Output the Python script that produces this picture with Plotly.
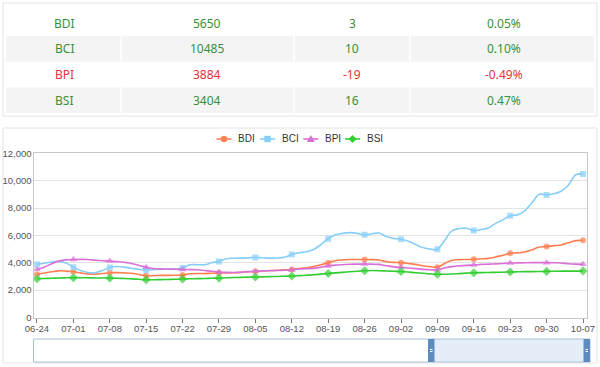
import plotly.graph_objects as go

# ---------------- data ----------------
table_names = ["BDI", "BCI", "BPI", "BSI"]
table_values = [5650, 10485, 3884, 3404]
table_changes = [3, 10, -19, 16]
table_pcts = ["0.05%", "0.10%", "-0.49%", "0.47%"]

dates = [
    "06-24", "06-25", "06-28", "06-29", "06-30",
    "07-01", "07-02", "07-05", "07-06", "07-07",
    "07-08", "07-09", "07-12", "07-13", "07-14",
    "07-15", "07-16", "07-19", "07-20", "07-21",
    "07-22", "07-23", "07-26", "07-27", "07-28",
    "07-29", "07-30", "08-02", "08-03", "08-04",
    "08-05", "08-06", "08-09", "08-10", "08-11",
    "08-12", "08-13", "08-16", "08-17", "08-18",
    "08-19", "08-20", "08-23", "08-24", "08-25",
    "08-26", "08-27", "08-30", "08-31", "09-01",
    "09-02", "09-03", "09-06", "09-07", "09-08",
    "09-09", "09-10", "09-13", "09-14", "09-15",
    "09-16", "09-17", "09-20", "09-21", "09-22",
    "09-23", "09-24", "09-27", "09-28", "09-29",
    "09-30", "10-01", "10-04", "10-05", "10-06",
    "10-07",
]

tick_labels = ["06-24", "07-01", "07-08", "07-15", "07-22", "07-29", "08-05", "08-12",
               "08-19", "08-26", "09-02", "09-09", "09-16", "09-23", "09-30", "10-07"]

bdi = [3150, 3250, 3340, 3410, 3390,
       3340, 3260, 3190, 3170, 3220,
       3270, 3280, 3260, 3230, 3140,
       3050, 3060, 3080, 3080, 3090,
       3100, 3200, 3220, 3210, 3230,
       3250, 3260, 3270, 3300, 3340,
       3370, 3400, 3430, 3450, 3480,
       3510, 3580, 3640, 3720, 3850,
       4010, 4150, 4210, 4240, 4240,
       4240, 4230, 4200, 4080, 4030,
       4010, 3950, 3880, 3780, 3720,
       3680, 3950, 4180, 4230, 4240,
       4250, 4290, 4320, 4420, 4550,
       4690, 4720, 4780, 4950, 5150,
       5180, 5250, 5300, 5460, 5620,
       5650]

bci = [3880, 3960, 4050, 4100, 3990,
       3680, 3430, 3290, 3270, 3440,
       3660, 3730, 3680, 3600, 3520,
       3470, 3500, 3520, 3540, 3560,
       3610, 3850, 3860, 3850, 4000,
       4100, 4290, 4330, 4340, 4360,
       4390, 4370, 4340, 4350, 4400,
       4600, 4730, 4800, 4970, 5330,
       5760, 6040, 6150, 6200, 6150,
       6050, 6120, 6170, 5920, 5780,
       5720, 5580, 5330, 5110, 5000,
       4990, 5650, 6330, 6500, 6520,
       6350, 6430, 6540, 6880, 7150,
       7440, 7500, 7800, 8400, 9000,
       8960, 9050, 9230, 9680, 10430,
       10485]

bpi = [3510, 3680, 3930, 4120, 4210,
       4240, 4250, 4240, 4190, 4150,
       4120, 4080, 4030, 3950, 3800,
       3680, 3580, 3550, 3540, 3530,
       3510, 3500, 3490, 3440, 3380,
       3330, 3300, 3290, 3310, 3350,
       3380, 3400, 3420, 3430, 3450,
       3470, 3540, 3560, 3590, 3680,
       3770, 3830, 3860, 3890, 3900,
       3910, 3900, 3880, 3780, 3700,
       3670, 3620, 3570, 3520, 3490,
       3480, 3620, 3720, 3770, 3810,
       3840, 3880, 3900, 3920, 3950,
       3980, 3990, 4000, 4010, 4010,
       4010, 4000, 3980, 3930, 3900,
       3884]

bsi = [2830, 2850, 2870, 2890, 2900,
       2910, 2910, 2900, 2890, 2890,
       2880, 2870, 2850, 2820, 2790,
       2760, 2760, 2770, 2780, 2790,
       2810, 2830, 2840, 2850, 2870,
       2880, 2900, 2920, 2930, 2950,
       2960, 2970, 2990, 3000, 3020,
       3030, 3060, 3090, 3120, 3170,
       3220, 3260, 3300, 3340, 3380,
       3420, 3430, 3420, 3400, 3380,
       3360, 3320, 3270, 3230, 3190,
       3160, 3160, 3180, 3210, 3240,
       3270, 3280, 3290, 3300, 3310,
       3330, 3340, 3350, 3350, 3360,
       3370, 3380, 3390, 3390, 3390,
       3404]

series_names = ["BDI", "BCI", "BPI", "BSI"]
series_values = [bdi, bci, bpi, bsi]
colors = ["#ff7f50", "#87cefa", "#da70d6", "#32cd32"]
symbols = ["circle", "square", "triangle-up", "diamond"]
msizes = [6, 6, 7, 7]

W, H = 600, 367


def px(x):
    return x / W


def py(y):
    return 1 - y / H


fig = go.Figure()
for name, vals, c, sym, ms in zip(series_names, series_values, colors, symbols, msizes):
    fig.add_trace(go.Scatter(
        x=dates, y=vals, name=name, mode="lines+markers",
        line=dict(color=c, width=1.6, shape="spline", smoothing=1),
        marker=dict(symbol=sym, color=c, size=[ms if d in tick_labels else 0 for d in dates],
                    line=dict(width=0)),
        showlegend=False, hoverinfo="skip",
    ))

shapes = []
annotations = []

# cards
shapes.append(dict(type="rect", xref="paper", yref="paper", x0=px(3), x1=px(597), y0=py(3), y1=py(116),
                   line=dict(color="#e2e2e2", width=1), fillcolor="rgba(0,0,0,0)", layer="below"))
shapes.append(dict(type="rect", xref="paper", yref="paper", x0=px(3), x1=px(597), y0=py(128), y1=py(363),
                   line=dict(color="#e2e2e2", width=1), fillcolor="rgba(0,0,0,0)", layer="below"))

# table
row_top = 10.3
row_h = 25.7
col_centers = [64, 207, 352, 504]
col_dividers = [121, 294, 410]
for i in range(len(table_names)):
    y0 = row_top + i * row_h
    if i % 2 == 1:
        shapes.append(dict(type="rect", xref="paper", yref="paper", x0=px(6), x1=px(594),
                           y0=py(y0), y1=py(y0 + row_h), line=dict(width=0), fillcolor="#f4f4f4",
                           layer="below"))
        for dx in col_dividers:
            shapes.append(dict(type="line", xref="paper", yref="paper", x0=px(dx), x1=px(dx),
                               y0=py(y0), y1=py(y0 + row_h), line=dict(color="white", width=1.5),
                               layer="below"))
    tcolor = "#e8323c" if table_changes[i] < 0 else "#3a8f3a"
    texts = [table_names[i], str(table_values[i]), str(table_changes[i]), table_pcts[i]]
    for cx, t in zip(col_centers, texts):
        annotations.append(dict(xref="paper", yref="paper", x=px(cx), y=py(y0 + row_h / 2),
                                text=t, showarrow=False, xanchor="center", yanchor="middle",
                                font=dict(family="Noto Sans", size=12, color=tcolor)))

# legend (manual)
leg_cx = [224, 267.5, 310.8, 352.5]
leg_y = 139
for name, c, sym, cx in zip(series_names, colors, symbols, leg_cx):
    shapes.append(dict(type="line", xref="paper", yref="paper", x0=px(cx - 7.5), x1=px(cx + 7.5),
                       y0=py(leg_y), y1=py(leg_y), line=dict(color=c, width=1.6)))
    r = 3.2
    if sym == "circle":
        shapes.append(dict(type="circle", xref="paper", yref="paper", x0=px(cx - r), x1=px(cx + r),
                           y0=py(leg_y - r), y1=py(leg_y + r), line=dict(width=0), fillcolor=c))
    elif sym == "square":
        shapes.append(dict(type="rect", xref="paper", yref="paper", x0=px(cx - r), x1=px(cx + r),
                           y0=py(leg_y - r), y1=py(leg_y + r), line=dict(width=0), fillcolor=c))
    elif sym == "triangle-up":
        path = "M {} {} L {} {} L {} {} Z".format(px(cx), py(leg_y - 4), px(cx - 4), py(leg_y + 3),
                                                 px(cx + 4), py(leg_y + 3))
        shapes.append(dict(type="path", xref="paper", yref="paper", path=path, line=dict(width=0), fillcolor=c))
    else:
        path = "M {} {} L {} {} L {} {} L {} {} Z".format(px(cx), py(leg_y - 4), px(cx + 4), py(leg_y),
                                                         px(cx), py(leg_y + 4), px(cx - 4), py(leg_y))
        shapes.append(dict(type="path", xref="paper", yref="paper", path=path, line=dict(width=0), fillcolor=c))
    annotations.append(dict(xref="paper", yref="paper", x=px(cx + 12), y=py(leg_y), text=name,
                            showarrow=False, xanchor="left", yanchor="middle",
                            font=dict(family="Liberation Sans, Arial", size=10, color="#333")))

# data zoom slider (decoration)
sz_top, sz_bot = 339, 362
shapes.append(dict(type="rect", xref="paper", yref="paper", x0=px(431), x1=px(587), y0=py(sz_top), y1=py(sz_bot),
                   line=dict(width=0), fillcolor="#e4eef8"))
shapes.append(dict(type="rect", xref="paper", yref="paper", x0=px(33.5), x1=px(590), y0=py(sz_top), y1=py(sz_bot),
                   line=dict(color="#a9c2da", width=1), fillcolor="rgba(0,0,0,0)"))
for hx in (428, 583.5):
    shapes.append(dict(type="rect", xref="paper", yref="paper", x0=px(hx), x1=px(hx + 6.5), y0=py(sz_top),
                       y1=py(sz_bot), line=dict(width=0), fillcolor="#5f8cbf"))
    for dy in (-1, 1):
        shapes.append(dict(type="line", xref="paper", yref="paper", x0=px(hx + 2), x1=px(hx + 4.5),
                           y0=py(350.5 + dy), y1=py(350.5 + dy), line=dict(color="white", width=1)))

tick_font = dict(family="Liberation Sans, Arial", size=9.5, color="#555")

fig.update_layout(
    width=W, height=H,
    margin=dict(l=0, r=0, t=0, b=0, pad=0),
    paper_bgcolor="white", plot_bgcolor="white",
    showlegend=False,
    shapes=shapes, annotations=annotations,
    xaxis=dict(
        type="category", domain=[px(33.5), px(587)], range=[-0.48, 75.55],
        tickmode="array", tickvals=tick_labels, ticktext=tick_labels,
        ticks="outside", ticklen=4, tickcolor="#777", tickfont=tick_font,
        ticklabelstandoff=-2,
        showgrid=False, showline=True, linecolor="#c8c8c8", mirror=True,
        zeroline=False, automargin=False, fixedrange=True,
    ),
    yaxis=dict(
        domain=[py(317.5), py(153.3)], range=[0, 12000], dtick=2000, tick0=0,
        tickformat=",", tickfont=tick_font, ticks="", ticklabelstandoff=-1,
        showgrid=True, gridcolor="#e3e3e3", gridwidth=1,
        showline=True, linecolor="#c8c8c8", mirror=True,
        zeroline=False, automargin=False, fixedrange=True,
    ),
)

fig.write_html("out.html", config={"displayModeBar": False},
               post_script="document.body.style.margin='0px';document.body.style.overflow='hidden';")
